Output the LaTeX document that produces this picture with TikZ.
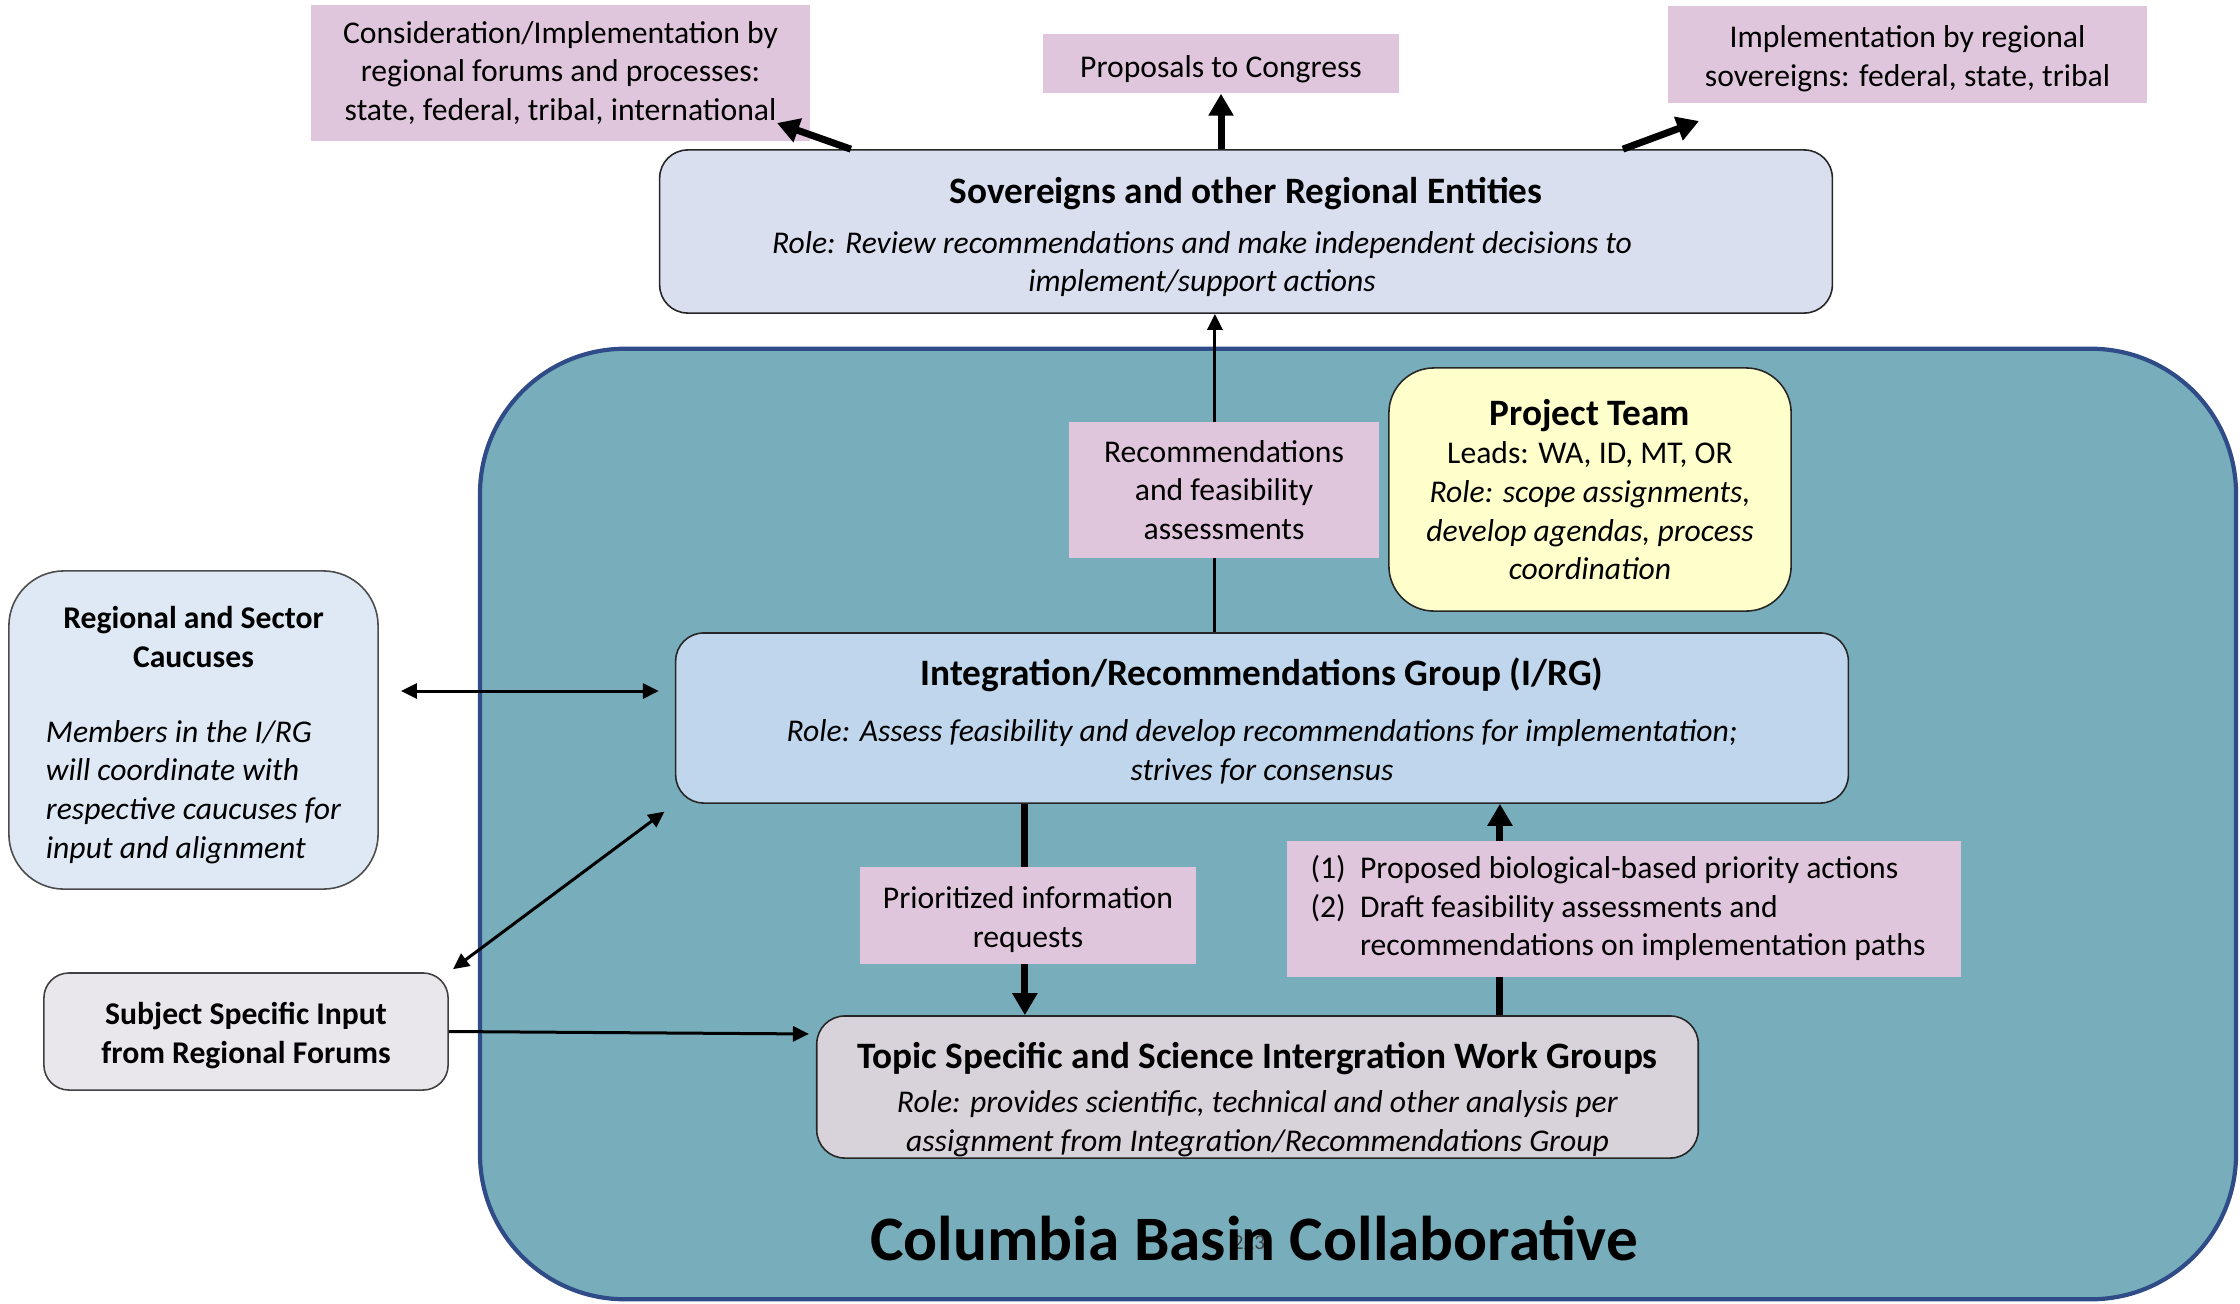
\documentclass[tikz,border=0pt]{standalone}
\usepackage{fontspec}
\setmainfont{Carlito}
\usepackage{xcolor}
\usepackage{tikz}
\usetikzlibrary{positioning,arrows.meta,calc}
\definecolor{notepink}{RGB}{224,198,220}
\definecolor{cbcteal}{RGB}{120,174,187}
\definecolor{cbcline}{RGB}{47,76,136}
\definecolor{sovfill}{RGB}{218,223,239}
\definecolor{irgfill}{RGB}{191,214,236}
\definecolor{caucusfill}{RGB}{222,233,245}
\definecolor{subjfill}{RGB}{233,231,236}
\definecolor{topicfill}{RGB}{216,211,218}
\definecolor{teamfill}{RGB}{255,255,204}
\newcommand{\boxhead}{\fontsize{10.6}{13}\selectfont\bfseries}
\tikzset{
  bigarrow/.style={-{Triangle[length=0.22cm,width=0.24cm]}, line width=0.07cm, draw=black},
  thinarrow/.style={-{Triangle[length=0.16cm,width=0.15cm]}, line width=0.03cm, draw=black},
  dblarrow/.style={{Triangle[length=0.16cm,width=0.15cm]}-{Triangle[length=0.16cm,width=0.15cm]}, line width=0.03cm, draw=black},
  every node/.style={anchor=center}
}

\begin{document}
\begin{tikzpicture}[
  x=0.01cm, y=-0.01cm,
  font=\fontsize{9}{11}\selectfont,
  box/.style={draw=black!85, line width=0.45pt, rounded corners=0.28cm, align=center, inner sep=0pt},
  note/.style={fill=notepink, align=center, inner sep=0pt}
]
\useasboundingbox (0,0) rectangle (2240,1303);

% collaborative frame
\node[draw=cbcline, line width=1.2pt, fill=cbcteal, rounded corners=1.45cm, minimum width=17.55cm, minimum height=9.5cm] (cbc) at (1358,824) {};
\node[font=\fontsize{6}{7}\selectfont, text=black!75] (pagenum) at (1249,1243) {223};
\node[font=\fontsize{18}{20}\selectfont\bfseries, anchor=base] (cbctitle) at (1254,1260) {Columbia Basin Collaborative};

% main boxes
\node[box, fill=sovfill, minimum width=11.72cm, minimum height=1.63cm] (sov) at (1246,231.5) {{\boxhead\rule{0pt}{10.7pt}Sovereigns and other Regional Entities}\\[3pt]\textit{Role: Review recommendations and make independent decisions to}\rule{0.88cm}{0pt}\\\textit{implement/support actions}\rule{0.88cm}{0pt}};
\node[box, fill=teamfill, rounded corners=0.45cm, minimum width=4.02cm, minimum height=2.43cm] (team) at (1590,489.5) {{\boxhead Project Team}\\Leads: WA, ID, MT, OR\\\textit{Role: scope assignments,}\\\textit{develop agendas, process}\\\textit{coordination}};
\node[box, fill=irgfill, minimum width=11.72cm, minimum height=1.70cm] (irg) at (1262,718) {{\boxhead\rule{0pt}{9.5pt}Integration/Recommendations Group (I/RG)}\\[5pt]\textit{Role: Assess feasibility and develop recommendations for implementation;}\\\textit{strives for consensus}};
\node[box, fill=topicfill, minimum width=8.81cm, minimum height=1.42cm] (topic) at (1257.5,1087) {{\boxhead\rule{0pt}{14.5pt}Topic Specific and Science Intergration Work Groups}\\[1.5pt]\textit{Role: provides scientific, technical and other analysis per}\\\textit{assignment from Integration/Recommendations Group}};
\node[box, draw=black!70, fill=caucusfill, rounded corners=0.55cm, minimum width=3.69cm, minimum height=3.18cm] (caucus) at (193.5,730) {\rule{0pt}{11pt}\textbf{Regional and Sector}\\\textbf{Caucuses}\\[12.5pt]\begin{tabular}{@{}l@{}}\itshape Members in the I/RG\\\itshape will coordinate with\\\itshape respective caucuses for\\\itshape input and alignment\end{tabular}};
\node[box, draw=black!75, fill=subjfill, rounded corners=0.25cm, minimum width=4.04cm, minimum height=1.17cm] (subject) at (246,1031.5) {\rule{0pt}{8.8pt}\textbf{Subject Specific Input}\\\textbf{from Regional Forums}};

% outputs at the top
\node[note, minimum width=4.99cm, minimum height=1.36cm] (cons) at (560.5,73) {Consideration/Implementation by\\regional forums and processes:\\state, federal, tribal, international};
\node[note, minimum width=3.56cm, minimum height=0.59cm] (congress) at (1221,63.5) {\rule{0pt}{9.4pt}Proposals to Congress};
\node[note, minimum width=4.79cm, minimum height=0.97cm] (implreg) at (1907.5,54.5) {\rule{0pt}{8.5pt}Implementation by regional\\sovereigns: federal, state, tribal};
\coordinate (consTip) at (777,123);
\coordinate (implTip) at (1699,121);
\draw[bigarrow] ($(sov.north west)+(192,0)$) -- (consTip);
\draw[bigarrow] (sov.north -| congress.south) -- (congress.south);
\draw[bigarrow] ($(sov.north west)+(964,0)$) -- (implTip);

% flows inside the collaborative
\draw[thinarrow] ($(irg.north west)+(540,0)$) coordinate (r1) -- (r1 |- sov.south);
\draw[bigarrow] ($(irg.south west)+(350,0)$) coordinate (p1) -- (p1 |- topic.north);
\draw[bigarrow] ($(topic.north west)+(684,0)$) coordinate (d1) -- (d1 |- irg.south);
\coordinate (c2) at ($(irg.west)+(0,-27)$);
\draw[dblarrow, shorten <=0.22cm, shorten >=0.16cm] (c2 -| caucus.east) -- (c2);
\draw[dblarrow, shorten <=0.05cm, shorten >=0.13cm] (subject.north east) -- (irg.south west);
\draw[thinarrow, shorten >=0.07cm] (subject.east) -- ($(topic.west)+(0,-53)$);

% labels on the flows
\node[note, minimum width=3.10cm, minimum height=1.36cm] (recfeas) at (1224,490) {Recommendations\\and feasibility\\assessments};
\node[note, minimum width=3.36cm, minimum height=0.97cm] (prior) at (1028,915.5) {\rule{0pt}{8.5pt}Prioritized information\\requests};
\node[note, minimum width=6.74cm, minimum height=1.36cm] (drafts) at (1624,909) {\begin{tabular}{@{}l@{\ \ }l@{}}\rule{0pt}{8pt}(1)&Proposed biological-based priority actions\\(2)&Draft feasibility assessments and\\&recommendations on implementation paths\end{tabular}\rule{0.12cm}{0pt}};
\end{tikzpicture}
\end{document}
